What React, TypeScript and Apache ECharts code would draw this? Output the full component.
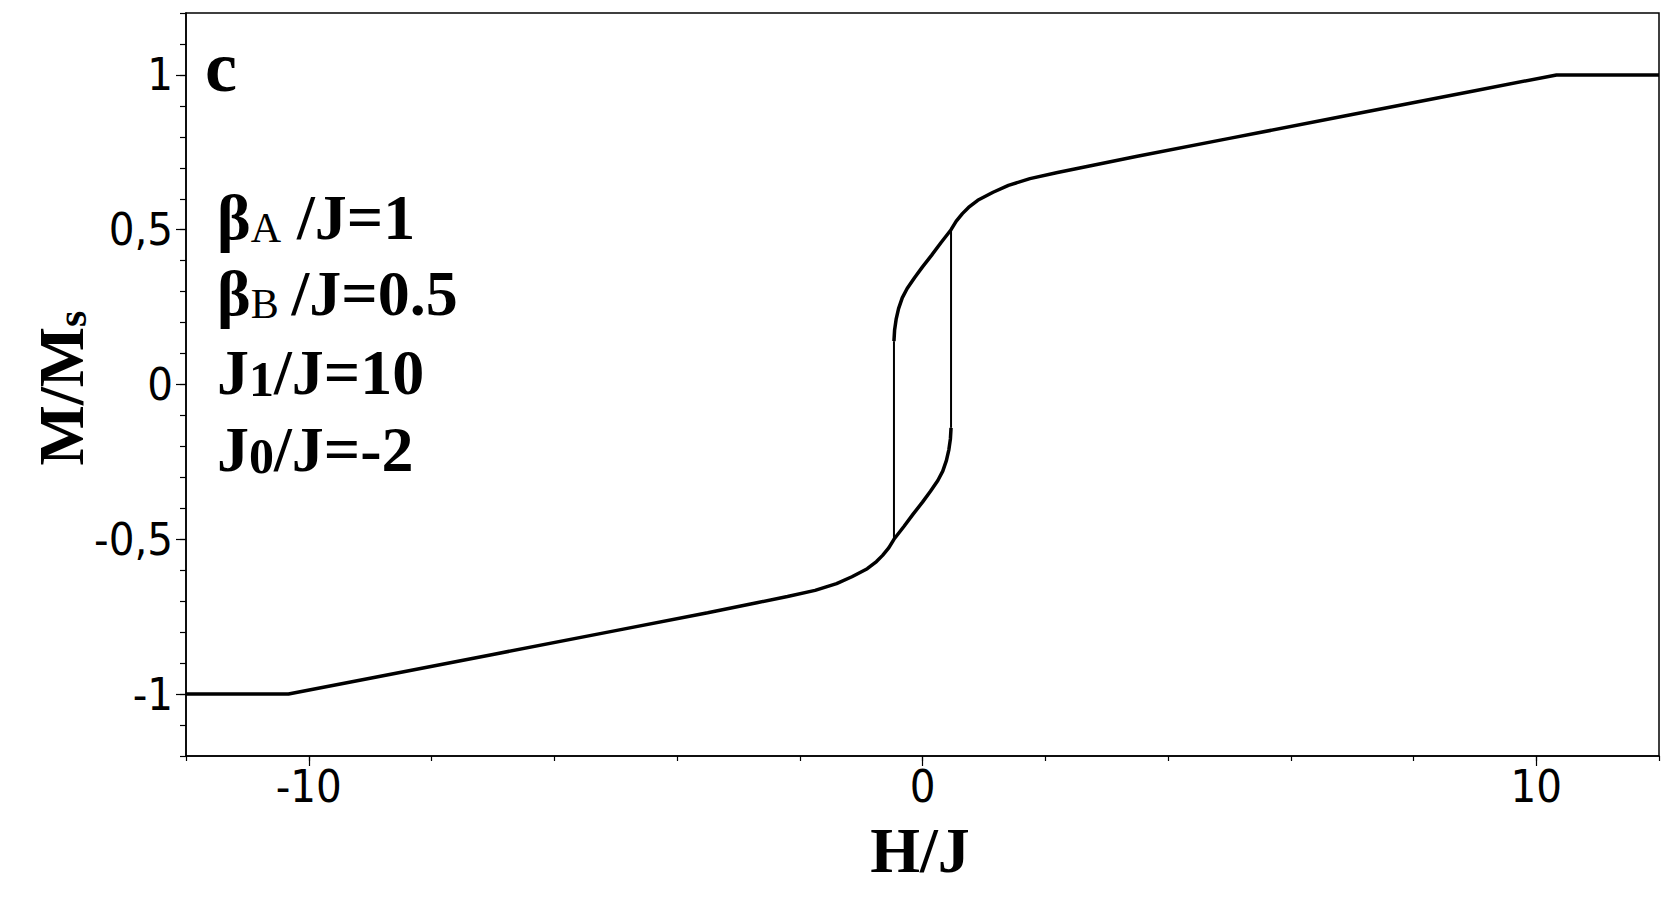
import React, { useEffect, useRef } from "react";
import * as echarts from "echarts";

// Axis ranges & tick labels
const xMin = -12;
const xMax = 12;
const yMin = -1.2;
const yMax = 1.2;
const xLabelValues = [-10, 0, 10];
const yLabelValues = [-1, -0.5, 0, 0.5, 1];

// Descending-field sweep: outer curve (H from +12 down to the jump field)
const upperOuterH = [12, 10.33, 9, 7, 5, 3.5, 2.7, 2.2, 1.75, 1.4, 1.15, 0.9, 0.75, 0.65, 0.55, 0.465];
const upperOuterM = [1, 1, 0.949, 0.872, 0.795, 0.737, 0.705, 0.685, 0.665, 0.643, 0.621, 0.595, 0.572, 0.552, 0.528, 0.5];
// Descending sweep inside the loop
const upperInnerH = [0.465, 0.3, 0.15, 0, -0.13, -0.25, -0.33, -0.39, -0.43, -0.455, -0.465];
const upperInnerM = [0.5, 0.458, 0.418, 0.38, 0.345, 0.31, 0.28, 0.245, 0.21, 0.175, 0.14];
// Jump at negative coercive field
const jumpLeftH = [-0.465, -0.465];
const jumpLeftM = [0.14, -0.5];

// Ascending-field sweep: outer curve (H from -12 up to the jump field)
const lowerOuterH = [-12, -10.33, -9, -7, -5, -3.5, -2.7, -2.2, -1.75, -1.4, -1.15, -0.9, -0.75, -0.65, -0.55, -0.465];
const lowerOuterM = [-1, -1, -0.949, -0.872, -0.795, -0.737, -0.705, -0.685, -0.665, -0.643, -0.621, -0.595, -0.572, -0.552, -0.528, -0.5];
// Ascending sweep inside the loop
const lowerInnerH = [-0.465, -0.3, -0.15, 0, 0.13, 0.25, 0.33, 0.39, 0.43, 0.455, 0.465];
const lowerInnerM = [-0.5, -0.458, -0.418, -0.38, -0.345, -0.31, -0.28, -0.245, -0.21, -0.175, -0.14];
// Jump at positive coercive field
const jumpRightH = [0.465, 0.465];
const jumpRightM = [-0.14, 0.5];

const zip = (h: number[], m: number[]) => h.map((v, i) => [v, m[i]]);

const TICK_FONT = "DejaVu Sans Condensed";
const SERIF = "Liberation Serif";

export default function App() {
  const ref = useRef<HTMLDivElement>(null);

  useEffect(() => {
    if (!ref.current) return;
    const chart = echarts.init(ref.current, null, { renderer: "svg" });

    const fmtY = (v: number) => {
      const r = Math.round(v * 10) / 10;
      return String(r).replace(".", ",");
    };

    const lineStyleMain = { color: "#000", width: 3.5 };
    const lineStyleJump = { color: "#000", width: 2 };

    const main = { fontSize: 64, fontWeight: "bold", fontFamily: SERIF, lineHeight: 64, verticalAlign: "bottom", fill: "#000", color: "#000" };
    const subReg = { fontSize: 42, fontWeight: "normal", fontFamily: SERIF, lineHeight: 49, verticalAlign: "bottom", fill: "#000", color: "#000" };
    const subLow = { fontSize: 50, fontWeight: "bold", fontFamily: SERIF, lineHeight: 35, verticalAlign: "bottom", fill: "#000", color: "#000" };

    const annotLines = [
      { text: "{m|β}{a|A}{m| /J=1}", base: 239 },
      { text: "{m|β}{a|B}{m|\u2009/J=0.5}", base: 315 },
      { text: "{m|J}{b|1}{m|/J=10}", base: 394 },
      { text: "{m|J}{b|0}{m|/J=-2}", base: 471 },
    ];

    const option: any = {
      animation: false,
      backgroundColor: "#fff",
      grid: {
        left: 186,
        top: 13,
        right: 21,
        bottom: 142,
        show: true,
        borderColor: "#000",
        borderWidth: 1.5,
        backgroundColor: "transparent",
        containLabel: false,
        outerBoundsMode: "none",
      },
      xAxis: [
        {
          type: "value",
          min: xMin,
          max: xMax,
          interval: 2,
          axisLine: { show: true, onZero: false, lineStyle: { color: "#000", width: 1.5 } },
          axisTick: { show: true, inside: false, length: 5, lineStyle: { color: "#000", width: 1.2 } },
          axisLabel: {
            show: true,
            customValues: xLabelValues,
            margin: 12.5,
            lineHeight: 36,
            color: "#000",
            fontSize: 45,
            fontFamily: TICK_FONT,
            formatter: (v: number) => String(Math.round(v)),
          },
          splitLine: { show: false },
        },
        {
          type: "value",
          min: xMin,
          max: xMax,
          position: "bottom",
          axisLine: { show: false, onZero: false },
          axisTick: { show: true, inside: false, length: 10, customValues: xLabelValues, lineStyle: { color: "#000", width: 1.2 } },
          axisLabel: { show: false },
          splitLine: { show: false },
        },
      ],
      yAxis: [
        {
          type: "value",
          min: yMin,
          max: yMax,
          interval: 0.1,
          axisLine: { show: true, onZero: false, lineStyle: { color: "#000", width: 1.5 } },
          axisTick: { show: true, inside: false, length: 6, lineStyle: { color: "#000", width: 1.2 } },
          axisLabel: {
            show: true,
            customValues: yLabelValues,
            margin: 13,
            color: "#000",
            fontSize: 45,
            lineHeight: 40,
            fontFamily: TICK_FONT,
            formatter: (v: number) => fmtY(v),
          },
          splitLine: { show: false },
        },
        {
          type: "value",
          min: yMin,
          max: yMax,
          position: "left",
          axisLine: { show: false, onZero: false },
          axisTick: { show: true, inside: false, length: 10, customValues: yLabelValues, lineStyle: { color: "#000", width: 1.2 } },
          axisLabel: { show: false },
          splitLine: { show: false },
        },
      ],
      series: [
        {
          name: "descending",
          type: "line",
          xAxisIndex: 0,
          yAxisIndex: 0,
          data: zip(upperOuterH, upperOuterM).concat(zip(upperInnerH, upperInnerM).slice(1)),
          showSymbol: false,
          symbol: "none",
          lineStyle: lineStyleMain,
          clip: false,
        },
        {
          name: "jumpLeft",
          type: "line",
          data: zip(jumpLeftH, jumpLeftM),
          showSymbol: false,
          symbol: "none",
          lineStyle: lineStyleJump,
        },
        {
          name: "ascending",
          type: "line",
          data: zip(lowerOuterH, lowerOuterM).concat(zip(lowerInnerH, lowerInnerM).slice(1)),
          showSymbol: false,
          symbol: "none",
          lineStyle: lineStyleMain,
          clip: false,
        },
        {
          name: "jumpRight",
          type: "line",
          data: zip(jumpRightH, jumpRightM),
          showSymbol: false,
          symbol: "none",
          lineStyle: lineStyleJump,
        },
      ],
      graphic: [
        {
          type: "text",
          x: 205,
          y: 67,
          style: {
            text: "c",
            font: `bold 72px "${SERIF}"`,
            fill: "#000",
            textAlign: "left",
            textVerticalAlign: "middle",
            align: "left",
            verticalAlign: "middle",
          },
          z: 10,
        },
        ...annotLines.map((l) => ({
          type: "text",
          x: 217,
          y: l.base + 10.4,
          style: {
            text: l.text,
            fill: "#000",
            font: `bold 64px "${SERIF}"`,
            textAlign: "left",
            textVerticalAlign: "bottom",
            align: "left",
            verticalAlign: "bottom",
            rich: { m: main, a: subReg, b: subLow },
          },
          z: 10,
        })),
        {
          type: "text",
          x: 920,
          y: 850.4,
          style: {
            text: "H/J",
            font: `bold 64px "${SERIF}"`,
            fill: "#000",
            textAlign: "center",
            textVerticalAlign: "middle",
            align: "center",
            verticalAlign: "middle",
          },
          z: 10,
        },
        {
          type: "text",
          x: 61,
          y: 388,
          rotation: Math.PI / 2,
          style: {
            text: "{m|M/M}{s|s}",
            fill: "#000",
            font: `bold 64px "${SERIF}"`,
            textAlign: "center",
            textVerticalAlign: "middle",
            align: "center",
            verticalAlign: "middle",
            rich: {
              m: { fontSize: 64, fontWeight: "bold", fontFamily: SERIF, lineHeight: 64, verticalAlign: "bottom", fill: "#000", color: "#000" },
              s: { fontSize: 42, fontWeight: "bold", fontFamily: SERIF, lineHeight: 34, verticalAlign: "bottom", fill: "#000", color: "#000" },
            },
          },
          z: 10,
        },
      ],
    };

    chart.setOption(option);
    return () => chart.dispose();
  }, []);

  return (
    <div
      ref={ref}
      style={{ position: "fixed", left: 0, top: 0, width: 1680, height: 898, background: "#fff" }}
    />
  );
}
